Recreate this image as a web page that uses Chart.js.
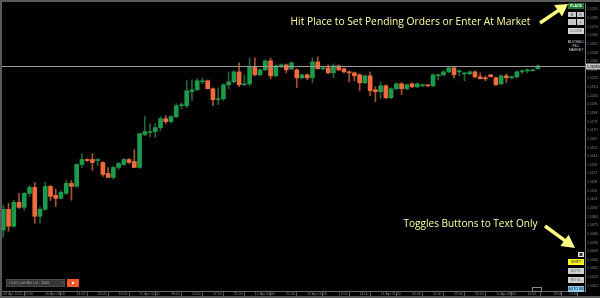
<!DOCTYPE html>
<html>
<head>
<meta charset="utf-8">
<script src="https://cdn.jsdelivr.net/npm/chart.js@4"></script>
<style>
html,body{margin:0;padding:0;background:#000;}
#c{display:block;}
</style>
</head>
<body>
<canvas id="c" width="600" height="298"></canvas>
<script>
// candles, one per bar, oldest first
const OPEN =[1.1070,1.1091,1.1074,1.1098,1.1093,1.1107,1.1113,1.1084,1.1091,1.1114,1.1105,1.1102,1.1107,1.1117,1.1114,1.1136,1.1141,1.1141,1.1140,1.1138,
1.1127,1.1123,1.1133,1.1136,1.1141,1.1139,1.1133,1.1166,1.1168,1.1169,1.1173,1.1182,1.1179,1.1184,1.1195,1.1195,1.1209,1.1211,1.1219,1.1220,
1.1212,1.1201,1.1202,1.1216,1.1219,1.1229,1.1216,1.1217,1.1234,1.1226,1.1231,1.1240,1.1225,1.1235,1.1236,1.1232,1.1231,1.1223,1.1226,1.1223,
1.1239,1.1232,1.1233,1.1228,1.1235,1.1232,1.1229,1.1228,1.1226,1.1218,1.1225,1.1211,1.1209,1.1215,1.1203,1.1212,1.1217,1.1212,1.1217,1.1214,
1.1215,1.1216,1.1215,1.1225,1.1226,1.1229,1.1233,1.1229,1.1227,1.1227,1.1229,1.1224,1.1223,1.1226,1.1223,1.1217,1.1225,1.1223,1.1224,1.1229,
1.1230,1.1230,1.1232];
const HIGH =[1.1095,1.1097,1.1100,1.1107,1.1108,1.1115,1.1118,1.1093,1.1118,1.1115,1.1111,1.1110,1.1120,1.1120,1.1137,1.1147,1.1142,1.1147,1.1142,1.1139,
1.1133,1.1134,1.1138,1.1142,1.1142,1.1151,1.1167,1.1184,1.1177,1.1177,1.1184,1.1185,1.1185,1.1197,1.1198,1.1220,1.1221,1.1222,1.1223,1.1221,
1.1213,1.1213,1.1217,1.1229,1.1230,1.1238,1.1226,1.1243,1.1243,1.1232,1.1241,1.1243,1.1236,1.1237,1.1237,1.1239,1.1232,1.1227,1.1227,1.1243,
1.1244,1.1234,1.1236,1.1237,1.1236,1.1233,1.1230,1.1229,1.1227,1.1226,1.1229,1.1214,1.1219,1.1216,1.1213,1.1218,1.1218,1.1217,1.1218,1.1218,
1.1217,1.1216,1.1227,1.1227,1.1230,1.1234,1.1234,1.1231,1.1228,1.1230,1.1230,1.1228,1.1225,1.1226,1.1224,1.1226,1.1227,1.1225,1.1230,1.1231,
1.1232,1.1232,1.1236];
const LOW  =[1.1063,1.1069,1.1073,1.1092,1.1090,1.1104,1.1077,1.1077,1.1090,1.1100,1.1094,1.1102,1.1106,1.1100,1.1113,1.1133,1.1139,1.1130,1.1135,1.1124,
1.1123,1.1121,1.1131,1.1135,1.1137,1.1133,1.1132,1.1165,1.1164,1.1163,1.1170,1.1177,1.1178,1.1183,1.1192,1.1193,1.1200,1.1210,1.1217,1.1212,
1.1195,1.1196,1.1200,1.1212,1.1218,1.1214,1.1215,1.1215,1.1225,1.1225,1.1230,1.1222,1.1224,1.1233,1.1228,1.1231,1.1213,1.1222,1.1221,1.1218,
1.1232,1.1231,1.1227,1.1223,1.1230,1.1228,1.1219,1.1220,1.1210,1.1217,1.1205,1.1199,1.1202,1.1202,1.1202,1.1211,1.1206,1.1211,1.1213,1.1213,
1.1214,1.1214,1.1214,1.1221,1.1225,1.1228,1.1223,1.1225,1.1220,1.1226,1.1223,1.1222,1.1220,1.1224,1.1215,1.1216,1.1218,1.1222,1.1223,1.1227,
1.1228,1.1230,1.1232];
const CLOSE=[1.1091,1.1074,1.1098,1.1093,1.1107,1.1113,1.1084,1.1091,1.1114,1.1104,1.1102,1.1108,1.1117,1.1114,1.1136,1.1141,1.1140,1.1138,1.1141,1.1126,
1.1123,1.1133,1.1137,1.1141,1.1138,1.1133,1.1167,1.1169,1.1169,1.1173,1.1182,1.1179,1.1184,1.1195,1.1196,1.1210,1.1211,1.1220,1.1220,1.1212,
1.1201,1.1202,1.1216,1.1219,1.1229,1.1216,1.1217,1.1234,1.1226,1.1231,1.1240,1.1225,1.1235,1.1236,1.1231,1.1238,1.1223,1.1226,1.1223,1.1239,
1.1232,1.1233,1.1228,1.1235,1.1231,1.1229,1.1228,1.1225,1.1218,1.1225,1.1210,1.1209,1.1215,1.1203,1.1212,1.1217,1.1212,1.1216,1.1214,1.1217,
1.1216,1.1215,1.1226,1.1226,1.1229,1.1233,1.1226,1.1230,1.1228,1.1229,1.1224,1.1222,1.1222,1.1224,1.1216,1.1225,1.1223,1.1224,1.1229,1.1230,
1.1231,1.1231,1.1235];

// time axis: bar index where each label sits, and its text
const X_TICK_AT=[0,8,14,18,22,26,32,36,40,44,48,54,58,64,68,72,78,82,86,90,94,100,105,108];
const X_TICK_LABELS=['09 Apr 2021, 07:00','10 Apr 06:00','14:00','16:00','18:00','11 Apr 02:00','08:00','12:00','17:00','21:00',
'12 Apr 04:00','12:00','13 Apr 00:00','12:00','14:00','13 Apr 21:00','05:00','11:00','15:00','20:00','14 Apr 08:00','14:00','18:00','21:00'];

// price axis
const Y_MIN=1.1009, Y_MAX=1.1298;
const Y_TICK_TOP=1.12917, Y_TICK_STEP=0.000867, Y_TICK_COUNT=33;

const TOP_NOTE='Hit Place to Set Pending Orders or Enter At Market';
const BOTTOM_NOTE='Toggles Buttons to Text Only';

const UP='#1b9a4b', DOWN='#f06b3b', UP_WICK='#24643b', DOWN_WICK='#a9522f';

const idx=OPEN.map((_,i)=>i);
const isUp=idx.map(i=>CLOSE[i]>=OPEN[i]);

function btn(ctx,x,y,w,h,fill,label,color){
  ctx.fillStyle=fill; ctx.fillRect(x,y,w,h);
  ctx.fillStyle=color; ctx.font='bold 3.5px "Liberation Sans"';
  ctx.textAlign='center'; ctx.textBaseline='middle';
  ctx.fillText(label,x+w/2,y+h/2+0.3);
}
function arrow(ctx,x1,y1,x2,y2,head,half){
  const dx=x2-x1, dy=y2-y1, len=Math.hypot(dx,dy), ux=dx/len, uy=dy/len;
  const bx=x2-ux*head, by=y2-uy*head;
  ctx.strokeStyle='#ffff80'; ctx.fillStyle='#ffff80'; ctx.lineWidth=3.5; ctx.lineCap='butt';
  ctx.beginPath(); ctx.moveTo(x1,y1); ctx.lineTo(bx+ux,by+uy); ctx.stroke();
  ctx.beginPath(); ctx.moveTo(x2,y2); ctx.lineTo(bx-uy*half,by+ux*half); ctx.lineTo(bx+uy*half,by-ux*half); ctx.closePath(); ctx.fill();
}
function fitText(ctx,txt,x,y,w,font){
  ctx.font=font; ctx.textAlign='left'; ctx.textBaseline='alphabetic';
  const m=ctx.measureText(txt).width;
  ctx.save(); ctx.translate(x,y); ctx.scale(w/m,1); ctx.fillText(txt,0,0); ctx.restore();
}

const frame={
  id:'frame',
  beforeDraw(chart){
    const c=chart.ctx;
    c.save();
    c.fillStyle='#000'; c.fillRect(0,0,600,298);
    c.fillStyle='#5a5a5a';
    c.fillRect(0,0,600,2); c.fillRect(0,0,2,298); c.fillRect(0,296,600,2);
    c.restore();
  },
  afterDatasetsDraw(chart){
    const c=chart.ctx, a=chart.chartArea, y=chart.scales.y;
    const last=CLOSE[CLOSE.length-1], py=Math.round(y.getPixelForValue(last))+0.5;
    c.save();
    c.strokeStyle='#9a9a9a'; c.lineWidth=1;
    c.beginPath(); c.moveTo(a.left,py); c.lineTo(a.right,py); c.stroke();
    c.fillStyle='#c8c8c8'; c.fillRect(a.right+1,py-3,14,6);
    c.fillStyle='#222'; c.font='bold 3.5px "Liberation Sans"'; c.textAlign='left'; c.textBaseline='middle';
    c.fillText(last.toFixed(5),a.right+2,py+0.3);
    c.restore();
  },
  afterDraw(chart){
    const c=chart.ctx;
    c.save();
    // notes
    c.fillStyle='#ffffa0';
    fitText(c,TOP_NOTE,290.5,25,240,'11.5px "Open Sans"');
    fitText(c,BOTTOM_NOTE,403.5,227,134,'11.5px "Open Sans"');
    arrow(c,540,23,568,4,12,7);
    arrow(c,545,226,575,248,13,7);
    // order panel, top right
    btn(c,568,3,16,6,'#1e7a30','PLACE','#fff');
    btn(c,568,12,8,5,'#c9c9c9','B','#666'); btn(c,577,12,7,5,'#c9c9c9','S','#666');
    btn(c,568,19,8,6,'#c9c9c9','-','#666'); btn(c,577,19,7,6,'#c9c9c9','+','#666');
    btn(c,568,28,16,6,'#d4d4d4','CLOSE','#888');
    c.fillStyle='#c8d8ee'; c.font='3.5px "Liberation Sans"'; c.textAlign='center'; c.textBaseline='middle';
    c.fillText('BUY/SELL',576,42); c.fillText('FILL',576,46); c.fillText('MARKET',576,50);
    // toggle panel, bottom right
    c.fillStyle='#e0e0e0'; c.fillRect(578,252,6,5);
    c.fillStyle='#333'; c.fillRect(579.5,253,3,3);
    btn(c,568,259,16,6,'#ffff00','SHIFT','#555');
    btn(c,568,268,16,6,'#cfcfcf','AUTO','#888');
    btn(c,568,277,16,6,'#cfcfcf','NO SL','#888');
    btn(c,568,286,16,6,'#8fc6ea','AUTO BE','#2a5a8a');
    // instrument picker, bottom left
    c.fillStyle='#363636'; c.fillRect(6,279,59,8);
    c.strokeStyle='#4a4a4a'; c.lineWidth=1; c.strokeRect(6.5,279.5,58,7);
    c.fillStyle='#aaa'; c.font='3.5px "Liberation Sans"'; c.textAlign='left'; c.textBaseline='middle';
    c.fillText('• 0.01 Lots Min Lot · 1000',9,283.3);
    c.fillText('⌄',61,282.5);
    c.fillStyle='#f05a28'; c.fillRect(67,279,12,8);
    c.fillStyle='#fff'; c.fillRect(72,282,2,2);
    c.strokeStyle='#8a8a8a'; c.strokeRect(532.5,287.5,9,4);
    c.restore();
  }
};

new Chart(document.getElementById('c'),{
  type:'bar',
  data:{datasets:[
    {label:'body',
     data:idx.map(i=>({x:i,y:[Math.min(OPEN[i],CLOSE[i]),Math.max(OPEN[i],CLOSE[i])]})),
     backgroundColor:isUp.map(u=>u?UP:DOWN),barThickness:4,grouped:false,borderWidth:0},
    {label:'wick',
     data:idx.map(i=>({x:i,y:[LOW[i],HIGH[i]]})),
     backgroundColor:isUp.map(u=>u?UP_WICK:DOWN_WICK),barThickness:1,grouped:false,borderWidth:0}
  ]},
  options:{
    responsive:false,animation:false,events:[],
    layout:{padding:{left:2,top:2,right:0,bottom:2}},
    plugins:{legend:{display:false},tooltip:{enabled:false}},
    scales:{
      x:{type:'linear',min:-0.25,max:111,offset:false,
        afterFit:s=>{s.height=5;},
        afterBuildTicks:s=>{s.ticks=X_TICK_AT.map(v=>({value:v}));},
        ticks:{autoSkip:false,maxRotation:0,minRotation:0,align:'start',padding:-4,
          font:{size:3.5,family:'Liberation Sans'},color:'#8a8a8a',
          callback:(v,i)=>X_TICK_LABELS[i]},
        grid:{drawOnChartArea:false,tickLength:5,color:'#555'},
        border:{color:'#6a6a6a'}},
      y:{position:'right',min:Y_MIN,max:Y_MAX,
        afterFit:s=>{s.width=15;},
        afterBuildTicks:s=>{s.ticks=Array.from({length:Y_TICK_COUNT},(_,k)=>({value:Y_TICK_TOP-k*Y_TICK_STEP}));},
        ticks:{padding:1,font:{size:3.5,family:'Liberation Sans'},color:'#8a8a8a',
          callback:v=>v.toFixed(4)},
        grid:{drawOnChartArea:false,tickLength:1,color:'#555'},
        border:{color:'#7a7a7a'}}
    }
  },
  plugins:[frame]
});
</script>
</body>
</html>
